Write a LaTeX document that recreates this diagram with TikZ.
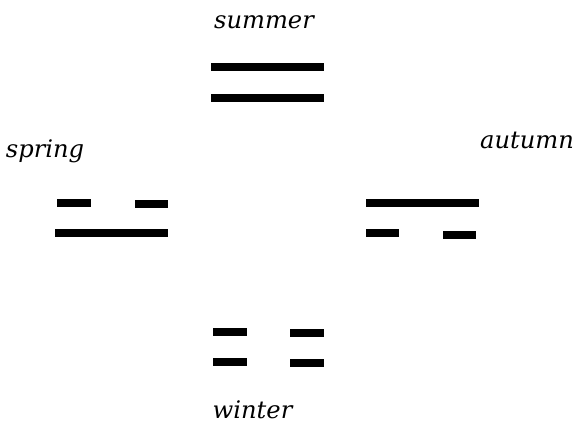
\documentclass[tikz,border=0pt]{standalone}
\usepackage{fontspec}
\setmainfont{DejaVu Serif}
\usepackage{xcolor}

\tikzset{
  yao/.style={line width=0.2cm, line cap=butt},
  season/.style={anchor=base, font=\fontsize{17.2}{20}\selectfont\itshape}
}

\begin{document}
\begin{tikzpicture}[x=0.025cm,y=-0.025cm]
  \useasboundingbox (0,0) rectangle (578,423);
  % summer
  \draw[yao] (211,67) -- (324,67);
  \draw[yao] (211,97.5) -- (324,97.5);
  \node[season] (summer) at (264,28) {summer};
  % spring
  \draw[yao] (57,203) -- (91,203);
  \draw[yao] (135,204) -- (168,204);
  \draw[yao] (55,233) -- (168,233);
  \node[season] (spring) at (45,157) {spring};
  % autumn
  \draw[yao] (366,203) -- (479,203);
  \draw[yao] (366,233) -- (399,233);
  \draw[yao] (443,234.5) -- (476,234.5);
  \node[season] (autumn) at (527,148) {autumn};
  % winter
  \draw[yao] (213,332) -- (247,332);
  \draw[yao] (290,332.5) -- (324,332.5);
  \draw[yao] (213,362) -- (247,362);
  \draw[yao] (290,363) -- (324,363);
  \node[season] (winter) at (252.5,418) {winter};
\end{tikzpicture}
\end{document}
